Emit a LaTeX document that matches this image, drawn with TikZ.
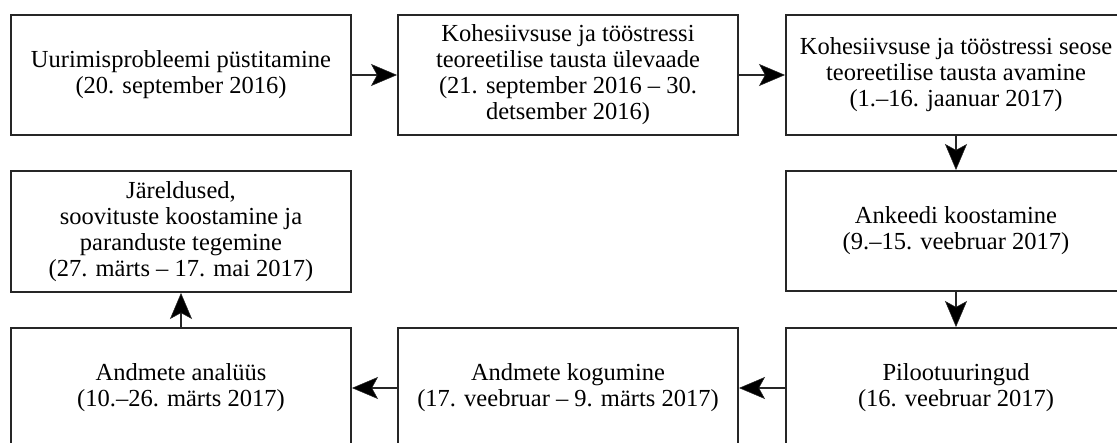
\documentclass[tikz,border=0pt]{standalone}
\usepackage{fontspec}
\setmainfont{Liberation Serif}
\usetikzlibrary{arrows.meta}
\begin{document}
\begin{tikzpicture}[x=1pt,y=-1pt,
  stepbox/.style={draw=black!85, line width=2pt, rectangle, minimum width=340pt, minimum height=120pt, align=center, inner sep=0pt, font=\fontsize{24.5}{26}\selectfont},
  conn/.style={draw=black!85, line width=1.6pt, -{Stealth[length=26pt,width=22pt,inset=6pt,fill=black,line width=0.5pt]}}]
\useasboundingbox (0,0) rectangle (1117,443);
\clip (0,0) rectangle (1117,443);
\fill[white] (0,0) rectangle (1117,443);
\node[stepbox] (b1) at (181,75) {Uurimisprobleemi püstitamine\\(20. september 2016)};
\node[stepbox] (b2) at (568,75) {Kohesiivsuse ja tööstressi\\teoreetilise tausta ülevaade\\(21. september 2016 – 30.\\detsember 2016)};
\node[stepbox] (b3) at (956,75) {Kohesiivsuse ja tööstressi seose\\teoreetilise tausta avamine\\(1.–16. jaanuar 2017)};
\node[stepbox, minimum height=121pt] (b4) at (181,231.5) {Järeldused,\\soovituste koostamine ja\\paranduste tegemine\\(27. märts – 17. mai 2017)};
\node[stepbox] (b5) at (956,231) {Ankeedi koostamine\\(9.–15. veebruar 2017)};
\node[stepbox] (b6) at (181,388) {Andmete analüüs\\(10.–26. märts 2017)};
\node[stepbox] (b7) at (568,388) {Andmete kogumine\\(17. veebruar – 9. märts 2017)};
\node[stepbox] (b8) at (956,388) {Pilootuuringud\\(16. veebruar 2017)};
\draw[conn] (b1.east) -- (b2.west);
\draw[conn] (b2.east) -- (b3.west);
\draw[conn] (b3.south) -- (b5.north);
\draw[conn] (b5.south) -- (b8.north);
\draw[conn] (b8.west) -- (b7.east);
\draw[conn] (b7.west) -- (b6.east);
\draw[conn] (b6.north) -- (b4.south);
\end{tikzpicture}
\end{document}
